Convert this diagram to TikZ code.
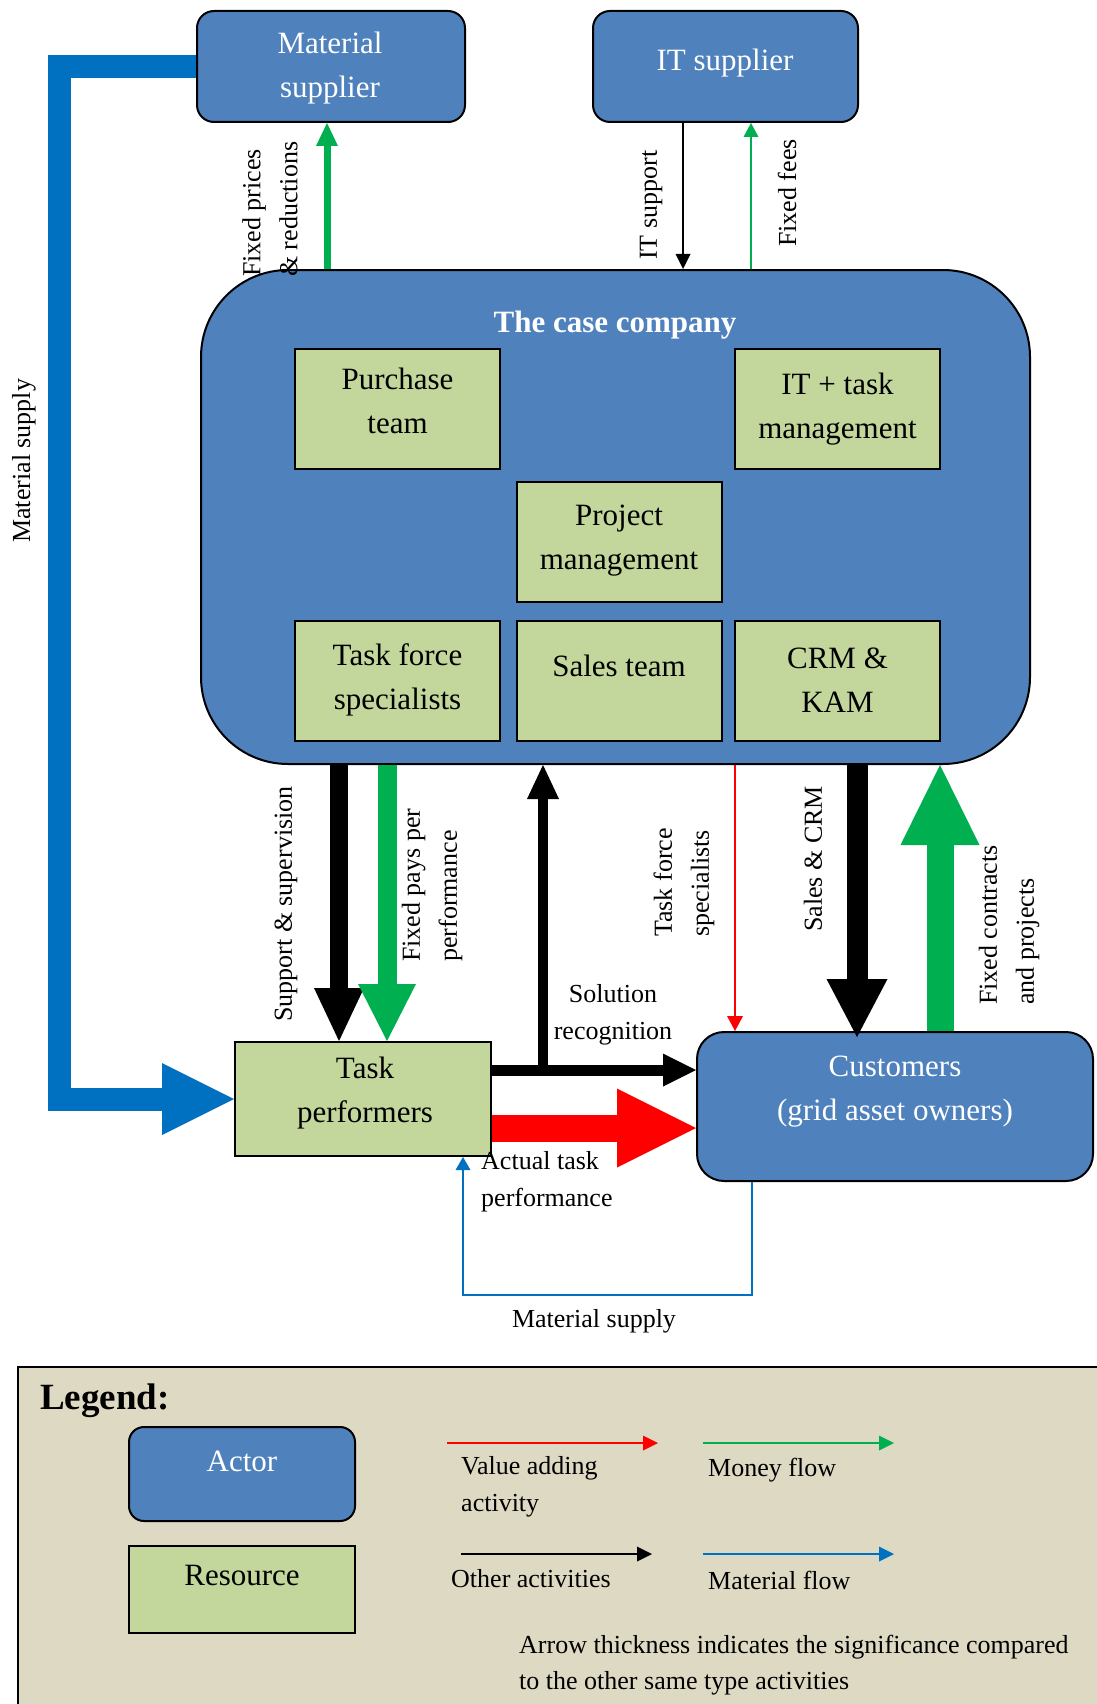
\documentclass[tikz,border=0pt]{standalone}
\usepackage{fontspec}
\setmainfont{Liberation Serif}
\usetikzlibrary{arrows.meta}

\definecolor{actorblue}{HTML}{4F81BD}
\definecolor{resgreen}{HTML}{C3D69B}
\definecolor{matblue}{HTML}{0070C0}
\definecolor{moneygreen}{HTML}{00B050}
\definecolor{valred}{HTML}{FF0000}
\definecolor{legendbg}{HTML}{DDD9C3}

\newcommand\boxfont{\fontsize{31}{44}\selectfont}
\newcommand\labfont{\fontsize{26}{37}\selectfont}

\begin{document}
\begin{tikzpicture}[x=1pt,y=-1pt,
  actor/.style={draw=black, line width=2pt, fill=actorblue, rounded corners=17pt, inner sep=0pt},
  resource/.style={draw=black, line width=2pt, fill=resgreen, inner sep=0pt,
                   minimum width=205pt, minimum height=120pt},
  boxtext/.style={font=\boxfont, align=center, inner sep=0pt},
  whitetext/.style={boxtext, text=white},
  lab/.style={font=\labfont, align=left, inner sep=0pt},
  vlab/.style={lab, rotate=90, anchor=west},
  tip/.style 2 args={-{Triangle[length=#1pt,width=#2pt,line width=0pt]}},
  thinflow/.style={line width=2.5pt, tip={15}{15}}
]
\useasboundingbox (0,0) rectangle (1096,1704);

% ---------- actors and resources ----------
\node[actor, minimum width=268pt, minimum height=111pt] (ms) at (331,66.5) {};
\node[whitetext] (ms-t) at (330,68) {Material\\supplier};
\node[actor, minimum width=265pt, minimum height=111pt] (its) at (725.5,66.5) {};
\node[whitetext] (its-t) at (725,63) {IT supplier};

\node[actor, rounded corners=87pt, minimum width=829pt, minimum height=494pt] (co) at (615.5,517) {};
\node[whitetext, font=\boxfont\bfseries] (co-t) at (615,325) {The case company};

\node[resource] (pt) at (397.5,409) {};
\node[boxtext] (pt-t) at (397.5,401) {Purchase\\team};
\node[resource] (itm) at (837.5,409) {};
\node[boxtext] (itm-t) at (837.5,409) {IT + task\\management};
\node[resource] (pm) at (619,541.5) {};
\node[boxtext] (pm-t) at (619,541) {Project\\management};
\node[resource] (tfs) at (397.5,680.5) {};
\node[boxtext] (tfs-t) at (397.5,680) {Task force\\specialists};
\node[resource] (st) at (619,680.5) {};
\node[boxtext] (st-t) at (619,666) {Sales team};
\node[resource] (crm) at (837.5,680.5) {};
\node[boxtext] (crm-t) at (837.5,680) {CRM \&\\KAM};

\node[resource, minimum width=256pt, minimum height=114pt] (tp) at (363,1099) {};
\node[boxtext] (tp-t) at (365,1093) {Task\\performers};
\node[actor, rounded corners=27pt, minimum width=396pt, minimum height=149pt] (cu) at (895,1106.5) {};
\node[whitetext] (cu-t) at (895,1092) {Customers\\(grid asset owners)};

% ---------- positions of the flows ----------
\coordinate (xfp) at (327,0);
\coordinate (xits) at (683,0);
\coordinate (xff) at (751,0);
\coordinate (xmat) at (59,0);
\coordinate (xss) at (339,0);
\coordinate (xpay) at (387,0);
\coordinate (sr) at (543,1070);
\coordinate (xtf) at (735,0);
\coordinate (xsc) at (857,0);
\coordinate (xfc) at (940,0);
\coordinate (yat) at (0,1128);
\coordinate (lpR) at (752,1295);
\coordinate (lpL) at (463,1295);

% ---------- flows ----------
\draw[moneygreen, line width=7pt, tip={23}{22}] (co.north -| xfp) -- (ms.south -| xfp);
\draw[black, line width=2pt, tip={15}{15}] (its.south -| xits) -- (co.north -| xits);
\draw[moneygreen, line width=2.5pt, tip={14}{15}] (co.north -| xff) -- (its.south -| xff);

\draw[matblue, line width=23pt, tip={72}{72}] (ms.west) -- (ms.west -| xmat) |- (tp.west);

\draw[black, line width=18pt, tip={53}{50}] (co.south -| xss) -- (tp.north -| xss);
\draw[moneygreen, line width=19pt, tip={57}{58}] (co.south -| xpay) -- (tp.north -| xpay);

\draw[black, line width=11pt, tip={33}{33}] (tp.east |- sr) -- (cu.west |- sr);
\draw[black, line width=10pt, tip={34}{32}] (sr) -- (co.south -| sr);
\draw[valred, line width=27pt, tip={79}{79}] (tp.east |- yat) -- (cu.west |- yat);

\draw[valred, line width=2.5pt, tip={15}{16}] (co.south -| xtf) -- (cu.north -| xtf);
\draw[black, line width=21pt, tip={58}{61}, shorten >=-6pt] (co.south -| xsc) -- (cu.north -| xsc);
\draw[moneygreen, line width=27pt, tip={80}{79}] (cu.north -| xfc) -- (co.south -| xfc);

\draw[matblue, line width=2.5pt, tip={13}{15}] (cu.south -| lpR) -- (lpR) -- (lpL) -- (tp.south -| lpL);

% ---------- flow labels ----------
\node[vlab] (l-fp) at (270,277) {Fixed prices\\\& reductions};
\node[vlab] (l-its) at (651,260) {IT support};
\node[vlab] (l-ff) at (787,247) {Fixed fees};
\node[vlab] (l-ms) at (24,543) {Material supply};
\node[vlab] (l-ss) at (286,1022) {Support \& supervision};
\node[vlab] (l-pay) at (432,962) {Fixed pays per\\performance};
\node[vlab] (l-tf) at (684,937) {Task force\\specialists};
\node[vlab] (l-sc) at (813,932) {Sales \& CRM};
\node[vlab] (l-fc) at (1009,1005) {Fixed contracts\\and projects};
\node[lab, align=center] (l-sr) at (613,1015) {Solution\\recognition};
\node[lab, anchor=west] (l-at) at (481,1182) {Actual task\\performance};
\node[lab] (l-ms2) at (594,1321) {Material supply};

% ---------- legend ----------
\draw[line width=2.5pt, fill=legendbg] (18,1367) rectangle (1130,1740);
\node[font=\fontsize{37}{44}\selectfont\bfseries, anchor=west, inner sep=0pt] (leg-t) at (40,1401) {Legend:};
\node[actor, rounded corners=15pt, minimum width=226pt, minimum height=94pt] (lg-a) at (242,1474) {};
\node[whitetext] (lg-a-t) at (242,1461) {Actor};
\node[resource, minimum width=226pt, minimum height=87pt] (lg-r) at (242,1589.5) {};
\node[boxtext] (lg-r-t) at (242,1575) {Resource};

\coordinate (lr1) at (447,1443); \coordinate (lr2) at (658,1443);
\coordinate (lg1) at (703,1443); \coordinate (lg2) at (894,1443);
\coordinate (lk1) at (461,1554); \coordinate (lk2) at (652,1554);
\coordinate (lb1) at (703,1554); \coordinate (lb2) at (894,1554);
\draw[valred, thinflow] (lr1) -- (lr2);
\draw[moneygreen, thinflow] (lg1) -- (lg2);
\draw[black, thinflow] (lk1) -- (lk2);
\draw[matblue, thinflow] (lb1) -- (lb2);

\node[lab, anchor=west] (lg-v) at (461,1487) {Value adding\\activity};
\node[lab, anchor=west] (lg-m) at (708,1470) {Money flow};
\node[lab, anchor=west] (lg-o) at (451,1579) {Other activities};
\node[lab, anchor=west] (lg-f) at (708,1580) {Material flow};
\node[lab, anchor=west, font=\fontsize{26}{36}\selectfont] (lg-n) at (519,1665)
  {Arrow thickness indicates the significance compared\\to the other same type activities};
\end{tikzpicture}
\end{document}
